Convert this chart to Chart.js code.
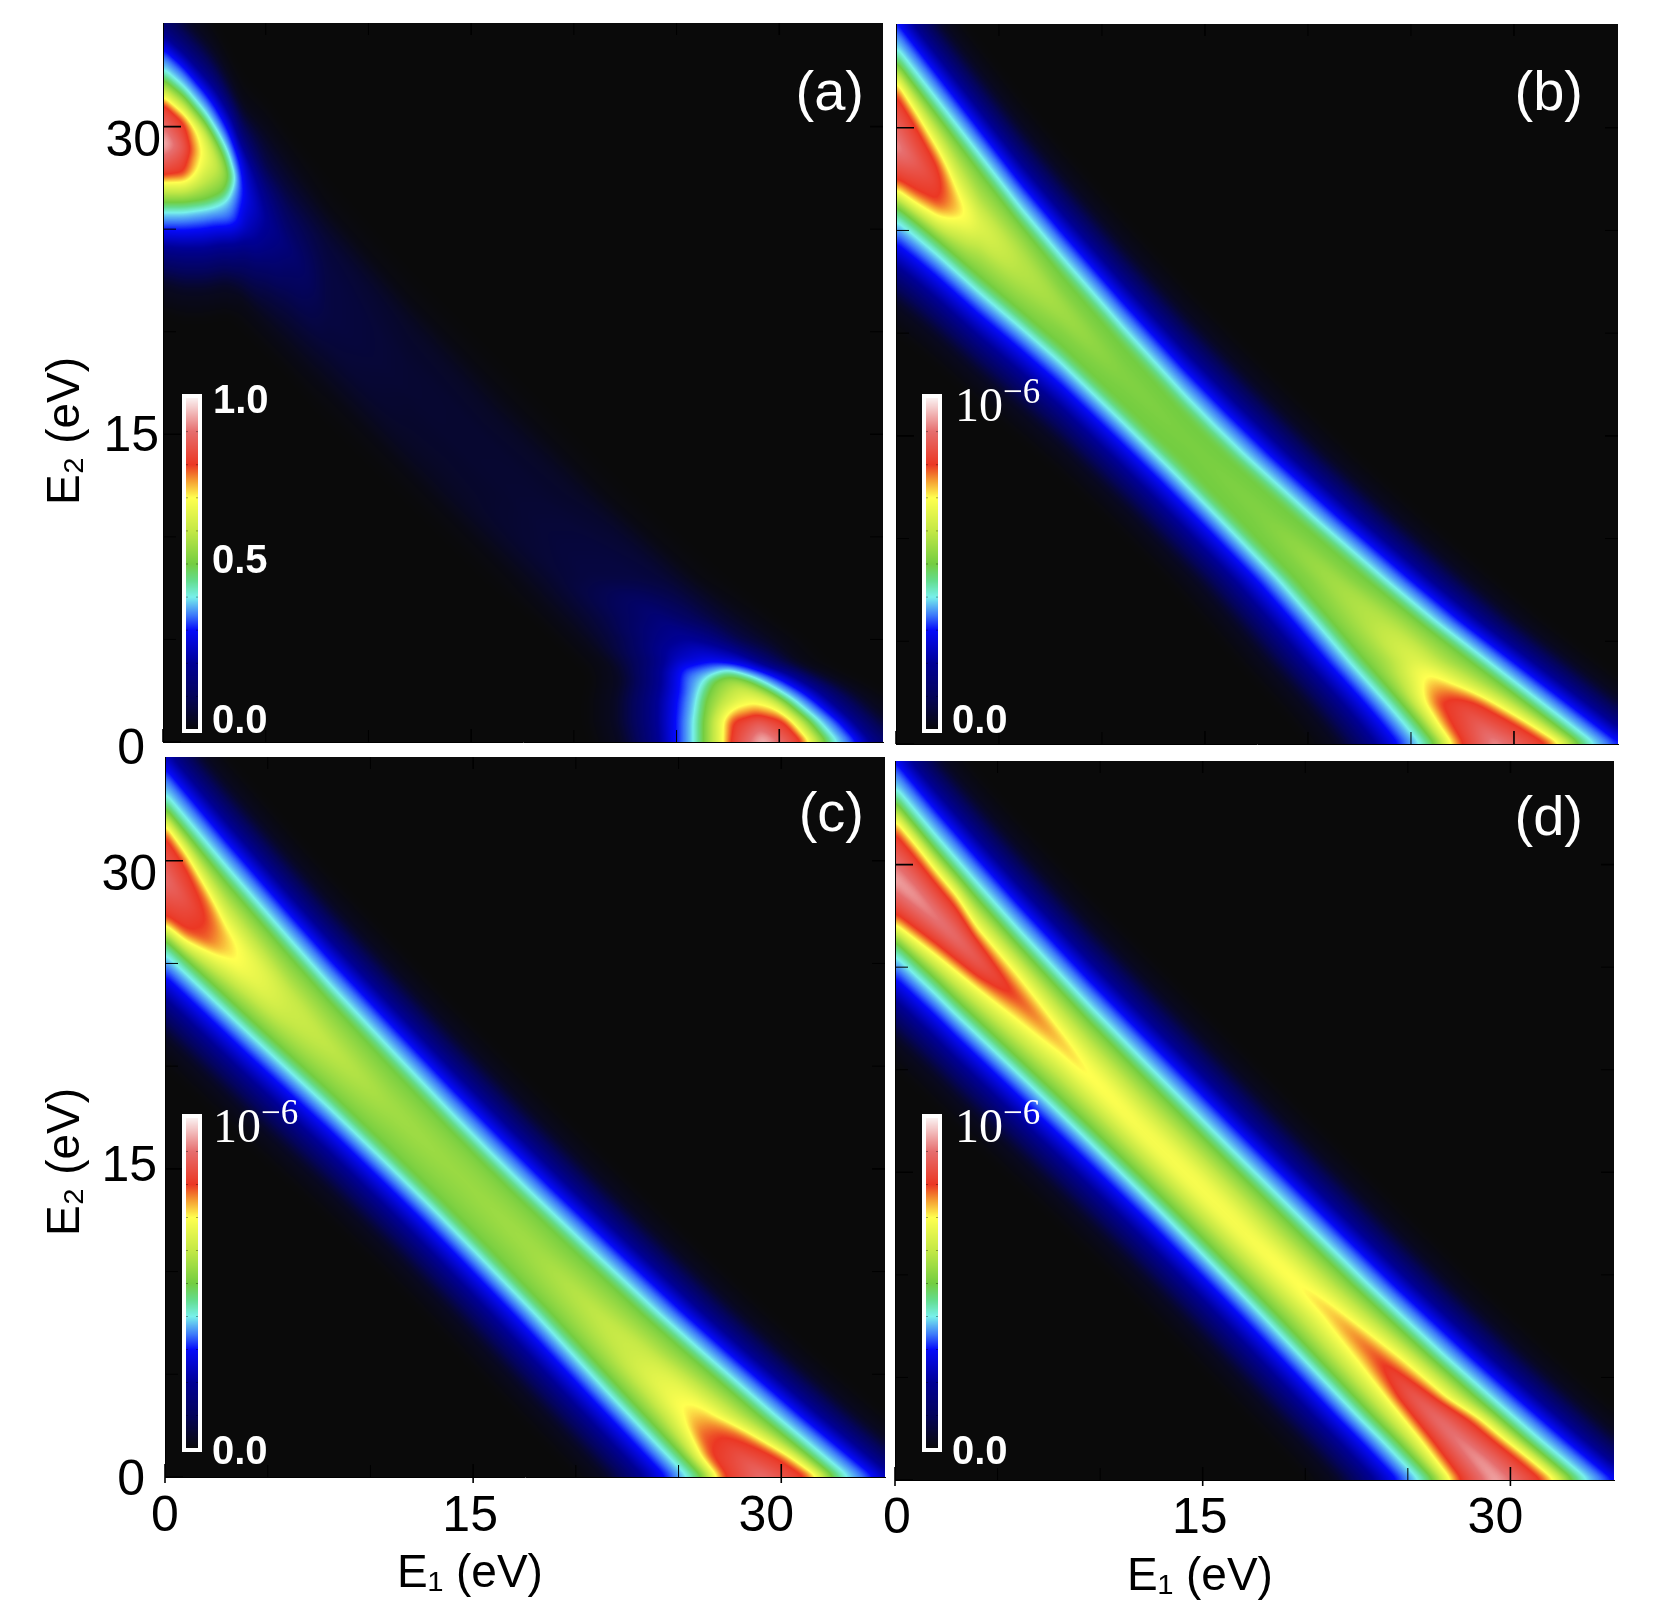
<!DOCTYPE html>
<html>
<head>
<meta charset="utf-8">
<title>Energy sharing maps</title>
<script src="https://cdn.jsdelivr.net/npm/chart.js@4/dist/chart.umd.js"></script>
<style>
  html, body { margin: 0; background: #fff; overflow: hidden; }
  canvas { position: absolute; left: 0; top: 0; }
</style>
</head>
<body>
<canvas id="panel-a" width="1664" height="1612"></canvas>
<canvas id="panel-b" width="1664" height="1612"></canvas>
<canvas id="panel-c" width="1664" height="1612"></canvas>
<canvas id="panel-d" width="1664" height="1612"></canvas>
<script>
// axis ticks (eV)
const tickValues = [0, 5, 10, 15, 20, 25, 30];
const labeledTicks = [0, 15, 30];
const axisMax = 35.05;

// The maps are symmetric under E1 <-> E2, so each panel is read off along cuts
// of constant min(E1, E2). Each row: total energy E1+E2 at 15 points of the cut.
const edgeLow = [3, 18, 33, 40, 50];
const edgeHigh = [50, 40, 33, 18, 3];

// panel (a)
const cutsA = [0, 1, 2, 2.5, 3, 3.25, 3.45, 3.7, 4, 5, 6, 8, 12, 18];
const sumsA = [
  [22.3, 24.0, 25.2, 25.85, 26.3, 27.3, 27.57, 29.2, 31.2, 31.45, 32.3, 32.8, 33.6, 34.6, 36.3],
  [23.0, 24.9, 26.2, 26.85, 27.3, 28.3, 28.7, 30.0, 31.3, 31.6, 32.5, 32.9, 33.7, 34.7, 36.3],
  [24.0, 25.9, 27.3, 28.0, 28.4, 29.3, 30.1, 30.7, 31.3, 31.8, 32.3, 32.7, 33.5, 34.6, 36.2],
  [24.6, 26.5, 27.9, 28.6, 29.1, 29.7, 30.25, 30.7, 31.15, 31.6, 32.0, 32.4, 33.3, 34.5, 36.0],
  [25.2, 27.1, 28.4, 29.35, 29.85, 30.3, 30.5, 30.75, 31.0, 31.2, 31.5, 32.0, 32.9, 34.2, 35.6],
  [25.4, 27.3, 28.7, 30.0, 30.35, 30.5, 30.6, 30.75, 30.9, 31.0, 31.15, 31.55, 32.6, 34.0, 35.3],
  [25.5, 27.5, 28.9, 30.85, 30.9, 30.95, 30.98, 31.0, 31.02, 31.05, 31.08, 31.12, 32.4, 33.8, 35.1],
  [25.5, 27.6, 29.0, 30.4, 30.5, 30.7, 30.8, 30.9, 31.0, 31.1, 31.2, 31.4, 32.2, 33.4, 35.0],
  [25.5, 27.8, 29.0, 29.6, 30.0, 30.2, 30.4, 30.6, 30.8, 31.0, 31.2, 31.6, 32.2, 33.2, 34.8],
  [25.5, 27.2, 28.7, 29.4, 29.8, 30.1, 30.3, 30.5, 30.7, 30.9, 31.1, 31.5, 32.1, 33.0, 34.8],
  [25.5, 27.0, 28.3, 29.0, 29.4, 29.7, 30.0, 30.2, 30.4, 30.7, 31.0, 31.4, 32.0, 33.0, 34.4],
  [25.0, 26.5, 27.5, 28.3, 28.7, 29.0, 29.4, 29.8, 30.2, 30.6, 31.0, 31.5, 32.2, 33.0, 34.0],
  [25.0, 26.0, 27.0, 28.0, 28.5, 28.8, 29.2, 29.6, 30.0, 30.4, 30.8, 31.0, 32.0, 32.7, 33.5],
  [25.0, 26.0, 27.0, 28.0, 28.5, 28.8, 29.2, 29.6, 30.0, 30.4, 30.8, 31.0, 32.0, 32.7, 33.5]
];
const valsA = [
  [3, 18, 33, 40, 50, 70, 80, 97, 80, 70, 50, 40, 33, 18, 3],
  [3, 18, 33, 40, 50, 70, 80, 86, 80, 70, 50, 40, 33, 18, 3],
  [3, 18, 33, 40, 50, 60, 66, 68, 66, 60, 50, 40, 33, 18, 3],
  [3, 18, 33, 40, 50, 56, 60, 62, 60, 56, 50, 40, 33, 18, 3],
  [3, 18, 33, 40, 50, 53, 54, 55, 54, 53, 50, 40, 33, 18, 3],
  [3, 18, 33, 40, 46, 47, 48, 48, 48, 47, 46, 40, 33, 18, 3],
  [3, 18, 32, 40, 40, 40, 41, 41, 41, 40, 40, 40, 32, 18, 3],
  [2, 16, 29, 33, 33.5, 34, 34, 34, 34, 34, 33.5, 33, 29, 16, 2],
  [2, 15, 24, 26, 27, 27.5, 28, 28, 28, 27.5, 27, 26, 24, 15, 2],
  [2, 8, 15, 18, 19, 19.5, 20, 20, 20, 19.5, 19, 18, 15, 8, 2],
  [2, 6, 10, 12, 13, 14, 15, 15, 15, 14, 13, 12, 10, 6, 2],
  [1, 4, 6, 6.5, 7, 7, 7, 7, 7, 7, 7, 6.5, 6, 4, 1],
  [1, 3, 4, 4.5, 4.5, 5, 5, 5, 5, 5, 4.5, 4.5, 4, 3, 1],
  [1, 2, 3.5, 4, 4.5, 4.5, 4.5, 4.5, 4.5, 4.5, 4.5, 4, 3.5, 2, 1]
];

// panel (b)
const cutsB = [0, 1, 2, 3, 4, 6, 8, 11, 14, 18];
const sumsB = [
  [21.5, 23.1, 24.7, 25.5, 26.2, 27.0, 27.5, 29.1, 31.7, 32.3, 33.2, 33.9, 34.9, 36.3, 37.9],
  [21.7, 23.3, 24.9, 25.7, 26.4, 27.3, 27.9, 29.3, 31.1, 31.7, 32.9, 33.6, 34.6, 36.0, 37.6],
  [21.85, 23.45, 25.05, 25.85, 26.55, 27.7, 28.4, 29.3, 30.3, 31.0, 32.6, 33.3, 34.3, 35.7, 37.3],
  [21.95, 23.55, 25.15, 25.95, 26.65, 28.0, 28.7, 29.2, 29.7, 30.6, 32.3, 33.0, 34.0, 35.4, 37.0],
  [22.05, 23.65, 25.25, 26.05, 26.75, 28.0, 28.7, 29.3, 29.9, 30.6, 32.0, 32.7, 33.7, 35.1, 36.7],
  [22.35, 23.95, 25.55, 26.35, 27.05, 28.0, 28.7, 29.4, 30.0, 30.6, 31.4, 32.1, 33.1, 34.5, 36.1],
  [22.6, 24.2, 25.8, 26.6, 27.3, 28.1, 28.7, 29.2, 29.7, 30.2, 31.0, 31.7, 32.7, 34.1, 35.7],
  [22.7, 24.3, 25.9, 26.7, 27.4, 28.1, 28.6, 29.0, 29.4, 29.9, 30.55, 31.25, 32.25, 33.65, 35.25],
  [22.75, 24.35, 25.95, 26.75, 27.45, 28.1, 28.5, 28.9, 29.3, 29.7, 30.25, 30.95, 31.95, 33.35, 34.95],
  [22.8, 24.4, 26.0, 26.8, 27.5, 28.1, 28.5, 28.9, 29.3, 29.7, 30.15, 30.85, 31.85, 33.25, 34.85]
];
const innerB = [
  [70, 80, 93, 80, 70], [70, 80, 87, 80, 70], [70, 80, 82, 80, 70], [64, 71, 73, 71, 64], [58, 63, 65, 63, 58],
  [55, 58, 59, 58, 55], [52, 55, 56, 55, 52], [50.5, 51.5, 52, 51.5, 50.5], [50, 50.5, 51, 50.5, 50], [50, 50.5, 50.5, 50.5, 50]
];

// panel (c)
const cutsC = [0, 1, 2, 3, 4, 6, 8, 11, 14, 18];
const sumsC = [
  [21.5, 23.1, 24.7, 25.5, 26.2, 26.9, 27.3, 29.1, 31.3, 31.8, 32.55, 33.25, 34.25, 35.65, 37.25],
  [21.55, 23.15, 24.75, 25.55, 26.25, 27.1, 27.6, 29.1, 30.8, 31.4, 32.35, 33.05, 34.05, 35.45, 37.05],
  [21.6, 23.2, 24.8, 25.6, 26.3, 27.5, 28.1, 29.1, 30.1, 30.8, 32.15, 32.85, 33.85, 35.25, 36.85],
  [21.65, 23.25, 24.85, 25.65, 26.35, 27.8, 28.5, 29.0, 29.5, 30.2, 31.95, 32.65, 33.65, 35.05, 36.65],
  [21.7, 23.3, 24.9, 25.7, 26.4, 27.7, 28.4, 29.0, 29.6, 30.3, 31.8, 32.5, 33.5, 34.9, 36.5],
  [21.85, 23.45, 25.05, 25.85, 26.55, 27.5, 28.3, 29.0, 29.6, 30.3, 31.5, 32.2, 33.2, 34.6, 36.2],
  [22.0, 23.6, 25.2, 26.0, 26.7, 27.6, 28.3, 29.0, 29.6, 30.3, 31.25, 31.95, 32.95, 34.35, 35.95],
  [22.1, 23.7, 25.3, 26.1, 26.8, 27.7, 28.4, 29.0, 29.6, 30.2, 31.05, 31.75, 32.75, 34.15, 35.75],
  [22.15, 23.75, 25.35, 26.15, 26.85, 27.8, 28.4, 29.0, 29.6, 30.1, 30.9, 31.6, 32.6, 34.0, 35.6],
  [22.2, 23.8, 25.4, 26.2, 26.9, 27.8, 28.4, 29.0, 29.6, 30.1, 30.85, 31.55, 32.55, 33.95, 35.55]
];
const innerC = [
  [70, 80, 90, 80, 70], [70, 80, 85, 80, 70], [68, 78, 80, 78, 68], [66, 72, 73, 72, 66], [62, 67, 68, 67, 62],
  [57, 61, 62, 61, 57], [55, 58, 60, 58, 55], [53, 55, 56, 55, 53], [53, 54, 55, 54, 53], [53, 54, 55, 54, 53]
];

// panel (d)
const cutsD = [0, 1, 2, 3, 4, 6, 8, 9.5, 12, 18];
const sumsD = [
  [21.6, 23.2, 24.8, 25.6, 26.3, 27.1, 27.6, 29.3, 31.6, 32.2, 33.05, 33.75, 34.75, 36.15, 37.75],
  [21.65, 23.25, 24.85, 25.65, 26.35, 27.35, 27.85, 29.4, 31.4, 32.0, 32.85, 33.55, 34.55, 35.95, 37.55],
  [21.7, 23.3, 24.9, 25.7, 26.4, 27.6, 28.1, 29.4, 31.15, 31.7, 32.65, 33.35, 34.35, 35.75, 37.35],
  [21.7, 23.3, 24.9, 25.7, 26.4, 27.8, 28.3, 29.4, 30.95, 31.5, 32.5, 33.2, 34.2, 35.6, 37.2],
  [21.75, 23.35, 24.95, 25.75, 26.45, 28.0, 28.5, 29.4, 30.4, 30.9, 32.35, 33.05, 34.05, 35.45, 37.05],
  [21.85, 23.45, 25.05, 25.85, 26.55, 28.4, 29.0, 29.5, 30.0, 30.6, 32.1, 32.8, 33.8, 35.2, 36.8],
  [21.95, 23.55, 25.15, 25.95, 26.65, 28.6, 29.1, 29.4, 29.8, 30.2, 31.95, 32.65, 33.65, 35.05, 36.65],
  [22.0, 23.6, 25.2, 26.0, 26.7, 28.4, 28.9, 29.2, 29.6, 30.1, 31.85, 32.55, 33.55, 34.95, 36.55],
  [22.05, 23.65, 25.25, 26.05, 26.75, 28.2, 28.7, 29.1, 29.5, 30.1, 31.8, 32.5, 33.5, 34.9, 36.5],
  [22.1, 23.7, 25.3, 26.1, 26.8, 28.2, 28.7, 29.2, 29.7, 30.2, 31.75, 32.45, 33.45, 34.85, 36.45]
];
const innerD = [
  [70, 80, 95, 80, 70], [70, 80, 94, 80, 70], [70, 80, 92, 80, 70], [70, 80, 90, 80, 70], [70, 80, 87, 80, 70],
  [70, 76, 80, 76, 70], [68, 72, 74, 72, 68], [66, 69, 71, 69, 66], [64, 68, 69, 68, 64], [64, 68, 69, 68, 64]
];

// rainbow colour scale, as on the colour bars
const colorStops = [
  [0, 10, 10, 10], [0.1, 4, 4, 90], [0.2, 0, 0, 150], [0.3, 5, 10, 250], [0.345, 60, 120, 250],
  [0.4, 120, 240, 235], [0.45, 100, 220, 140], [0.5, 115, 205, 65], [0.6, 195, 232, 70],
  [0.7, 255, 255, 80], [0.75, 245, 160, 50], [0.8, 235, 55, 35], [0.9, 230, 110, 110], [1, 250, 240, 240]
];

const sansFont = '"Liberation Sans", Arial, sans-serif';
const serifFont = '"Liberation Serif", "Times New Roman", serif';

function colorAt(v) {
  v = Math.max(0, Math.min(1, v));
  let i = 0;
  while (i < colorStops.length - 2 && v > colorStops[i + 1][0]) i++;
  const a = colorStops[i], b = colorStops[i + 1];
  const f = (v - a[0]) / (b[0] - a[0]);
  return [1, 2, 3].map(k => Math.round(a[k] + (b[k] - a[k]) * f));
}

const lut = [];
for (let i = 0; i <= 1000; i++) lut.push(colorAt(i / 1000));

// dataset points sit at the measured spots (x = E1, y = E2, v = intensity)
function cutPoints(cuts, sums, vals) {
  const pts = [];
  cuts.forEach((t, i) => sums[i].forEach((s, k) => pts.push({ x: t, y: s - t, v: vals[i][k] })));
  return pts;
}

function withEdges(inner) {
  return inner.map(r => [...edgeLow, ...r, ...edgeHigh]);
}

function valueAt(pts, cuts, t, s) {
  const n = pts.length / cuts.length;
  if (t >= cuts[cuts.length - 1]) t = cuts[cuts.length - 1] - 1e-6;
  let i = 0;
  while (t >= cuts[i + 1]) i++;
  const f = (t - cuts[i]) / (cuts[i + 1] - cuts[i]);
  const r0 = i * n, r1 = (i + 1) * n;
  let ps = 0, pv = 0;
  for (let k = 0; k < n; k++) {
    const a = pts[r0 + k], b = pts[r1 + k];
    const sk = a.x + a.y + (b.x + b.y - a.x - a.y) * f;
    const vk = a.v + (b.v - a.v) * f;
    if (s <= sk) {
      if (k === 0) return Math.max(0, vk * (1 - (sk - s) / 1.5));
      return pv + (vk - pv) * (s - ps) / (sk - ps);
    }
    ps = sk; pv = vk;
  }
  return Math.max(0, pv * (1 - (s - ps) / 1.5));
}

// running mean along one direction, rounds off the corners between cuts
function smoothLine(src, dst, start, step, n, r) {
  let sum = 0;
  for (let k = -r; k <= r; k++) sum += src[start + step * Math.max(0, Math.min(n - 1, k))];
  for (let i = 0; i < n; i++) {
    dst[start + step * i] = sum / (2 * r + 1);
    sum += src[start + step * Math.min(n - 1, i + r + 1)] - src[start + step * Math.max(0, i - r)];
  }
}

function smoothField(field, w, h, r) {
  const tmp = new Float32Array(field.length);
  for (let pass = 0; pass < 2; pass++) {
    for (let j = 0; j < h; j++) smoothLine(field, tmp, j * w, 1, w, r);
    for (let i = 0; i < w; i++) smoothLine(tmp, field, i, w, h, r);
  }
}

const heatField = {
  id: 'heatField',
  beforeDraw(chart) {
    const { left, top, width, height } = chart.chartArea;
    const ds = chart.data.datasets[0];
    const xs = chart.scales.x, ys = chart.scales.y;
    const off = document.createElement('canvas');
    const w = off.width = Math.round(width);
    const h = off.height = Math.round(height);
    const octx = off.getContext('2d');
    const img = octx.createImageData(w, h);
    const e1 = [], e2 = [];
    for (let i = 0; i < w; i++) e1.push(xs.getValueForPixel(left + i + 0.5));
    for (let j = 0; j < h; j++) e2.push(ys.getValueForPixel(top + j + 0.5));
    const field = new Float32Array(w * h);
    for (let j = 0; j < h; j++) {
      for (let i = 0; i < w; i++) {
        field[j * w + i] = valueAt(ds.data, ds.cuts, Math.min(e1[i], e2[j]), e1[i] + e2[j]);
      }
    }
    smoothField(field, w, h, 4);
    let p = 0;
    for (let q = 0; q < field.length; q++) {
      const c = lut[Math.max(0, Math.min(1000, Math.round(field[q] * 10)))];
      img.data[p++] = c[0]; img.data[p++] = c[1]; img.data[p++] = c[2]; img.data[p++] = 255;
    }
    octx.putImageData(img, 0, 0);
    chart.ctx.drawImage(off, left, top, width, height);
  }
};

const panelDecor = {
  id: 'panelDecor',
  afterDraw(chart, args, o) {
    const ctx = chart.ctx;
    const { left, right, top, bottom } = chart.chartArea;
    const xs = chart.scales.x, ys = chart.scales.y;
    ctx.save();

    // inward ticks on all four sides
    ctx.strokeStyle = '#000';
    xs.ticks.forEach(t => {
      const x = xs.getPixelForValue(t.value);
      const major = t.label !== '';
      ctx.lineWidth = major ? 1.6 : 1;
      ctx.beginPath();
      ctx.moveTo(x, bottom + (o.xLabels && major ? 6 : 0)); ctx.lineTo(x, bottom - (major ? 13 : 12));
      if (t.value > 0) { ctx.moveTo(x, top); ctx.lineTo(x, top + 12); }
      ctx.stroke();
    });
    ys.ticks.forEach(t => {
      const y = ys.getPixelForValue(t.value);
      const major = t.label !== '';
      ctx.lineWidth = major ? 1.6 : 1;
      ctx.beginPath();
      ctx.moveTo(left, y); ctx.lineTo(left + (major ? 18 : 13), y);
      if (t.value > 0) { ctx.moveTo(right, y); ctx.lineTo(right - 13, y); }
      ctx.stroke();
    });

    // tick labels, text comes from the axes
    ctx.fillStyle = '#000';
    ctx.font = '50px ' + sansFont;
    ctx.textBaseline = 'middle';
    if (o.yLabels) {
      ctx.textAlign = 'right';
      ys.ticks.filter(t => t.label !== '').forEach(t => {
        const n = o.yLabels[t.value];
        ctx.fillText(t.label, left + n[0], ys.getPixelForValue(t.value) + n[1]);
      });
    }
    if (o.xLabels) {
      ctx.textAlign = 'center';
      xs.ticks.filter(t => t.label !== '').forEach(t => {
        const n = o.xLabels[t.value];
        ctx.fillText(t.label, xs.getPixelForValue(t.value) + n[0], bottom + n[1]);
      });
    }

    // axis titles
    ctx.font = '46px ' + sansFont;
    ctx.textAlign = 'center';
    if (o.xTitle) ctx.fillText(o.xTitle, left + 305, bottom + 97);
    if (o.yTitle) {
      ctx.save();
      ctx.translate(66, top + o.yTitleAt);
      ctx.rotate(-Math.PI / 2);
      ctx.fillText(o.yTitle, 0, 0);
      ctx.restore();
    }

    // panel tag
    ctx.fillStyle = '#fff';
    ctx.font = '56px ' + sansFont;
    ctx.textAlign = 'right';
    ctx.fillText(o.tag, right - o.tagAt[0], top + o.tagAt[1]);

    // colour bar
    const b = o.bar;
    for (let y = b.top; y < b.bottom; y++) {
      const c = colorAt(1 - (y - b.top) / (b.bottom - b.top));
      ctx.fillStyle = `rgb(${c[0]},${c[1]},${c[2]})`;
      ctx.fillRect(b.left, y, b.right - b.left, 1);
    }
    ctx.fillStyle = 'rgba(0,0,0,0.35)';
    for (let k = 1; k < 10; k++) {
      const y = b.bottom - (b.bottom - b.top) * k / 10;
      ctx.fillRect(b.left, y, 2, 1);
      ctx.fillRect(b.right - 2, y, 2, 1);
    }
    ctx.strokeStyle = '#fff';
    ctx.lineWidth = 4;
    ctx.strokeRect(b.left - 2, b.top - 2, b.right - b.left + 4, b.bottom - b.top + 4);

    ctx.fillStyle = '#fff';
    ctx.textBaseline = 'alphabetic';
    ctx.font = 'bold 40px ' + sansFont;
    ctx.textAlign = 'left';
    b.labels.forEach(l => ctx.fillText(l.text, l.x, l.y));
    if (b.power) {
      ctx.font = '48px ' + serifFont;
      ctx.fillText('10', b.power.x, b.power.y);
      ctx.font = '35px ' + serifFont;
      ctx.fillText('\u22126', b.power.x + 48, b.power.y - 18);
    }
    ctx.restore();
  }
};

const panels = [
  {
    id: 'panel-a', box: { l: 163, t: 23, r: 883, b: 742 },
    cuts: cutsA, sums: sumsA, vals: valsA,
    decor: {
      tag: '(a)', tagAt: [19, 72], yTitle: 'E\u2082 (eV)', yTitleAt: 408,
      yLabels: { 0: [-18, 8], 15: [-4, 3], 30: [-2, 16] },
      bar: {
        left: 186, right: 198, top: 398, bottom: 729,
        labels: [{ text: '1.0', x: 213, y: 413 }, { text: '0.5', x: 212, y: 573 }, { text: '0.0', x: 212, y: 733 }]
      }
    }
  },
  {
    id: 'panel-b', box: { l: 896, t: 24, r: 1618, b: 744 },
    cuts: cutsB, sums: sumsB, vals: withEdges(innerB),
    decor: {
      tag: '(b)', tagAt: [35, 71],
      bar: {
        left: 926, right: 938, top: 398, bottom: 729,
        labels: [{ text: '0.0', x: 952, y: 733 }], power: { x: 955, y: 421 }
      }
    }
  },
  {
    id: 'panel-c', box: { l: 165, t: 757, r: 885, b: 1477 },
    cuts: cutsC, sums: sumsC, vals: withEdges(innerC),
    decor: {
      tag: '(c)', tagAt: [21, 59], yTitle: 'E\u2082 (eV)', yTitleAt: 405, xTitle: 'E\u2081 (eV)',
      yLabels: { 0: [-20, 4], 15: [-8, -2], 30: [-8, 15] },
      xLabels: { 0: [0, 40], 15: [-3, 40], 30: [-15, 40] },
      bar: {
        left: 186, right: 198, top: 1118, bottom: 1448,
        labels: [{ text: '0.0', x: 212, y: 1464 }], power: { x: 213, y: 1142 }
      }
    }
  },
  {
    id: 'panel-d', box: { l: 895, t: 761, r: 1614, b: 1480 },
    cuts: cutsD, sums: sumsD, vals: withEdges(innerD),
    decor: {
      tag: '(d)', tagAt: [31, 59], xTitle: 'E\u2081 (eV)',
      xLabels: { 0: [2, 39], 15: [-3, 39], 30: [-15, 39] },
      bar: {
        left: 926, right: 938, top: 1118, bottom: 1448,
        labels: [{ text: '0.0', x: 952, y: 1464 }], power: { x: 955, y: 1142 }
      }
    }
  }
];

function energyAxis() {
  return {
    type: 'linear', min: 0, max: axisMax,
    afterBuildTicks: scale => { scale.ticks = tickValues.map(v => ({ value: v })); },
    ticks: { display: false, autoSkip: false, callback: v => labeledTicks.includes(v) ? String(v) : '' },
    grid: { display: false, drawTicks: false },
    border: { display: true, color: '#000', width: 1 }
  };
}

panels.forEach(p => {
  new Chart(document.getElementById(p.id), {
    type: 'scatter',
    data: {
      datasets: [{
        label: p.decor.tag,
        data: cutPoints(p.cuts, p.sums, p.vals),
        cuts: p.cuts,
        pointRadius: 0,
        showLine: false
      }]
    },
    options: {
      responsive: false,
      animation: false,
      events: [],
      layout: { padding: { left: p.box.l, top: p.box.t, right: 1664 - p.box.r, bottom: 1612 - p.box.b } },
      scales: { x: energyAxis(), y: energyAxis() },
      plugins: { legend: { display: false }, tooltip: { enabled: false }, panelDecor: p.decor }
    },
    plugins: [heatField, panelDecor]
  });
});
</script>
</body>
</html>
